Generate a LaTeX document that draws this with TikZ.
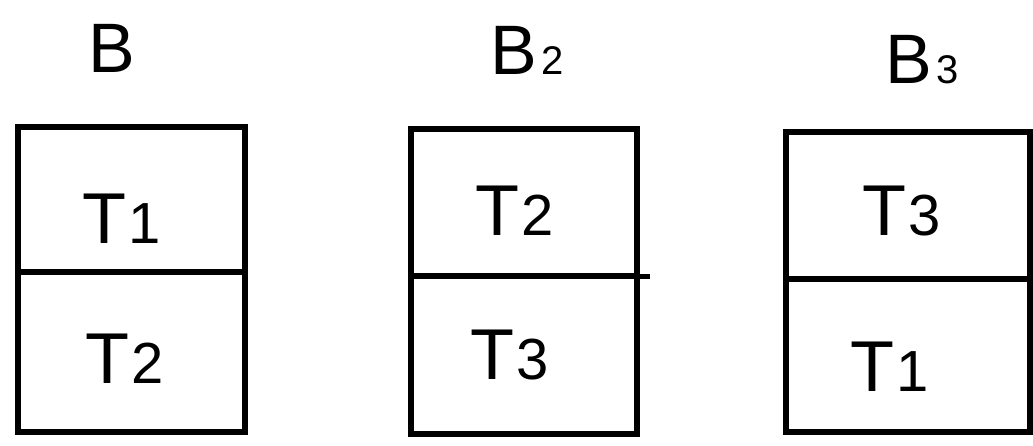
\documentclass[tikz,border=0pt]{standalone}
\usepackage{fontspec}
\setmainfont{Liberation Sans}
\newcommand{\tname}[1]{T\kern2pt{\fontsize{58}{58}\selectfont #1}}
\newcommand{\bname}[1]{B\kern4pt{\fontsize{40}{40}\selectfont #1}}
\begin{document}
\begin{tikzpicture}[x=1pt,y=-1pt,
  cell/.style={draw=black, line width=6pt, rectangle, inner sep=0pt, outer sep=0pt},
  lab/.style={font=\fontsize{72}{72}\selectfont, text=black, inner sep=0pt},
  title/.style={font=\fontsize{70}{70}\selectfont, text=black, inner sep=0pt}]
\useasboundingbox (0,0) rectangle (1033,445);
% Box B
\node[cell, minimum width=227pt, minimum height=145pt] (b1t) at (131.5,199.5) {};
\node[cell, minimum width=227pt, minimum height=160pt] (b1b) at (131.5,352) {};
\node[lab] (t11) at (122,219) {\tname{1}};
\node[lab] (t12) at (125,359) {\tname{2}};
% Box B2
\node[cell, minimum width=226pt, minimum height=147pt] (b2t) at (524,202.5) {};
\node[cell, minimum width=226pt, minimum height=158pt] (b2b) at (524,355) {};
\coordinate (b2ext) at (650,276);
\draw[line width=5pt] (b2t.south east) -- (b2ext);
\node[lab] (t21) at (515,211) {\tname{2}};
\node[lab] (t22) at (510,355) {\tname{3}};
% Box B3
\node[cell, minimum width=244pt, minimum height=147pt] (b3t) at (908,205.5) {};
\node[cell, minimum width=244pt, minimum height=153pt] (b3b) at (908,355.5) {};
\node[lab] (t31) at (902,211) {\tname{3}};
\node[lab] (t32) at (890,367) {\tname{1}};
% Titles
\node[title] (l1) at (112,48) {B};
\node[title] (l2) at (527,50) {\bname{2}};
\node[title] (l3) at (922,60) {\bname{3}};
\end{tikzpicture}
\end{document}
